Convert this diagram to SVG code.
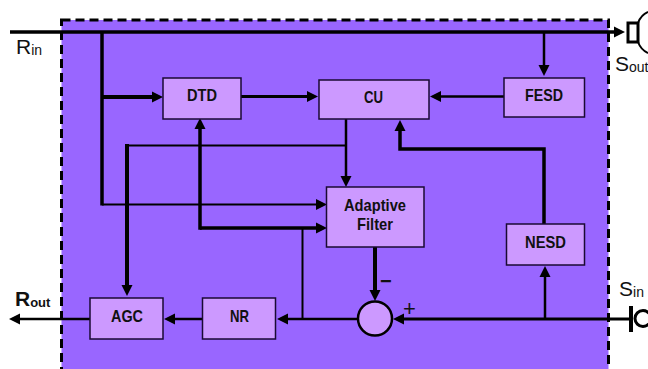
<svg xmlns="http://www.w3.org/2000/svg" width="648" height="369" viewBox="0 0 648 369">
<style>
.box{fill:#cc99ff;stroke:#1a0a33;stroke-width:1.5}
.t{font-family:"Liberation Sans",Arial,sans-serif;font-weight:700;font-size:17px;fill:#111;text-anchor:middle}
.l{font-family:"Liberation Sans",Arial,sans-serif;fill:#111}
.w{fill:none;stroke:#000;stroke-linejoin:miter}
</style>
<defs>
<marker id="a" markerUnits="userSpaceOnUse" markerWidth="12" markerHeight="12" refX="7" refY="6" orient="auto"><path d="M0,0.500L11,6L0,11.500z" fill="#000"/></marker>
</defs>
<rect id="frame" x="61.500" y="20" width="547" height="352" fill="#9966ff" stroke="#000" stroke-width="3" stroke-dasharray="9 5"/>
<g id="connectors">
<path class="w" stroke-width="3.500" d="M10,32H621" marker-end="url(#a)"/>
<path class="w" stroke-width="3.500" d="M102,32V205.500"/>
<path class="w" stroke-width="2" d="M102,204.500H323" marker-end="url(#a)"/>
<path class="w" stroke-width="4" d="M102,97H159" marker-end="url(#a)"/>
<path class="w" stroke-width="3" d="M241,96.500H314" marker-end="url(#a)"/>
<path class="w" stroke-width="2.500" d="M544,32V72" marker-end="url(#a)"/>
<path class="w" stroke-width="2.500" d="M504,96.500H434" marker-end="url(#a)"/>
<path class="w" stroke-width="3.500" d="M544,224V149H400V124" marker-end="url(#a)"/>
<path class="w" stroke-width="2.500" d="M346,119V183" marker-end="url(#a)"/>
<path class="w" stroke-width="2" d="M346,145.500H125"/>
<path class="w" stroke-width="4" d="M127,144V292" marker-end="url(#a)"/>
<path class="w" stroke-width="3.500" d="M200,229.750V122" marker-end="url(#a)"/>
<path class="w" stroke-width="3.500" d="M200,228H323" marker-end="url(#a)"/>
<path class="w" stroke-width="2" d="M302.500,228V319"/>
<path class="w" stroke-width="4" d="M375,247V297" marker-end="url(#a)"/>
<path class="w" stroke-width="2.500" d="M358,319H281" marker-end="url(#a)"/>
<path class="w" stroke-width="2.500" d="M203,319H168" marker-end="url(#a)"/>
<path class="w" stroke-width="2.500" d="M90,319H13" marker-end="url(#a)"/>
<path class="w" stroke-width="3" d="M632,319H397" marker-end="url(#a)"/>
<path class="w" stroke-width="2.500" d="M545,319V270" marker-end="url(#a)"/>
</g>
<g id="node-dtd"><rect class="box" x="163" y="78" width="78" height="41"/><text class="t" x="202" y="101" textLength="30" lengthAdjust="spacingAndGlyphs">DTD</text></g>
<g id="node-cu"><rect class="box" x="319" y="80" width="110" height="39"/><text class="t" x="373.500" y="103" textLength="19" lengthAdjust="spacingAndGlyphs">CU</text></g>
<g id="node-fesd"><rect class="box" x="504" y="78" width="80.500" height="39"/><text class="t" x="544" y="101" textLength="38" lengthAdjust="spacingAndGlyphs">FESD</text></g>
<g id="node-af"><rect class="box" x="326.500" y="187" width="97.500" height="60"/><text class="t" x="375" y="211" textLength="62" lengthAdjust="spacingAndGlyphs">Adaptive</text><text class="t" x="375" y="230" textLength="36" lengthAdjust="spacingAndGlyphs">Filter</text></g>
<g id="node-nesd"><rect class="box" x="506.500" y="224" width="78" height="41"/><text class="t" x="545.500" y="248" textLength="41" lengthAdjust="spacingAndGlyphs">NESD</text></g>
<g id="node-agc"><rect class="box" x="90" y="298" width="73" height="41"/><text class="t" x="127" y="322" textLength="32" lengthAdjust="spacingAndGlyphs">AGC</text></g>
<g id="node-nr"><rect class="box" x="202.500" y="298" width="73" height="41"/><text class="t" x="239.500" y="322" textLength="19" lengthAdjust="spacingAndGlyphs">NR</text></g>
<g id="node-sum"><circle cx="375" cy="318.500" r="17" fill="#cc99ff" stroke="#000" stroke-width="2.500"/></g>
<g id="speaker" fill="none" stroke="#000"><rect x="628" y="23" width="10" height="19" fill="#fff" stroke-width="3"/><path d="M638,23Q641,15 648,12M638,42Q641,50 648,53" stroke-width="2"/></g>
<g id="mic" fill="none" stroke="#000"><path d="M631,306V332" stroke-width="4"/><circle cx="643" cy="318.500" r="8" stroke-width="3"/></g>
<g id="labels">
<text class="l" x="16" y="54" font-size="21">R<tspan font-size="14" dy="1">in</tspan></text>
<text class="l" x="615" y="71" font-size="21">S<tspan font-size="14" dy="1">out</tspan></text>
<text class="l" x="15" y="306" font-size="21" font-weight="700">R<tspan font-size="13" dy="1">out</tspan></text>
<text class="l" x="619" y="296" font-size="21">S<tspan font-size="14" dy="1">in</tspan></text>
<text class="l" x="380" y="288" font-size="20" font-weight="700">−</text>
<text class="l" x="403" y="316" font-size="22">+</text>
</g>
</svg>
